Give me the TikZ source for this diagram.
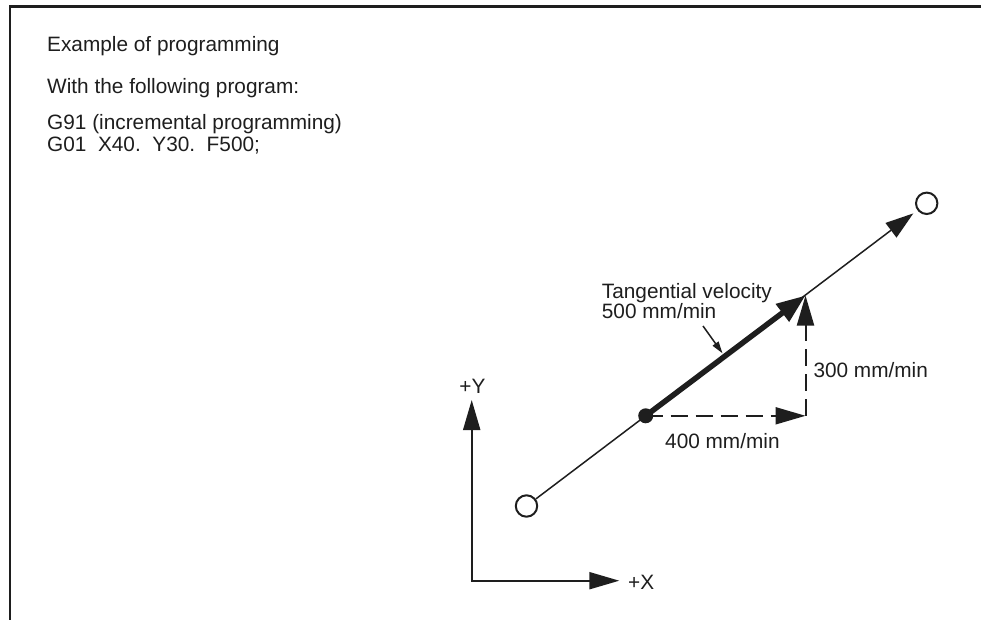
\documentclass[tikz,border=0pt]{standalone}
\usepackage{fontspec}
\setmainfont{Liberation Sans}
\usetikzlibrary{arrows.meta}
\definecolor{ink}{RGB}{30,30,30}
\begin{document}
\begin{tikzpicture}[x=1pt,y=-1pt,
  txt/.style={anchor=base west, inner sep=0pt, font=\fontsize{20.8}{20.8}\selectfont, text=ink},
  circ/.style={circle, draw=ink, line width=2pt, minimum size=21.4pt, inner sep=0pt, fill=white},
  dotnode/.style={circle, fill=ink, minimum size=15pt, inner sep=0pt},
  thinline/.style={draw=ink, line width=1.5pt},
  dashline/.style={draw=ink, line width=2pt, dash pattern=on 17pt off 8pt},
  bigtip/.tip={Triangle[length=30pt,width=17pt]},
]
\useasboundingbox (0,0) rectangle (981,620);
% frame
\coordinate (f1) at (9.7,620);
\coordinate (f2) at (9.7,6.5);
\coordinate (f3) at (981,6.5);
\draw[ink, line width=2.2pt] (f1) -- (f2) -- (f3);

% texts
\node[txt] (t1) at (47,52) {Example of programming};
\node[txt] (t2) at (47,94) {With the following program:};
\node[txt] (t3) at (47,130) {G91 (incremental programming)};
\node[txt] (t4) at (47,152) {G01\ \ X40.\ \ Y30.\ \ F500;};

% points
\coordinate (o) at (471.7,580.7);
\coordinate (yt) at (471.7,400);
\coordinate (xt) at (619.3,580.7);
\coordinate (tt) at (913.3,213.4);
\coordinate (v) at (805.5,295.5);
\coordinate (h) at (805.5,415.8);
\coordinate (la) at (703,326);
\coordinate (lb) at (722.5,353.3);

% path line with circles
\node[circ] (s) at (526.5,506) {};
\node[circ] (e) at (926.7,203.3) {};
\draw[thinline, -{Triangle[length=28pt,width=18pt]}] (s) -- (tt);

% components
\draw[dashline, -bigtip] (645.7,415.8) -- (h);
\draw[dashline, -bigtip] (h) -- (v);
\node[dotnode] (d) at (645.7,415.8) {};
\draw[ink, line width=5.5pt, -{Triangle[length=29pt,width=21pt]}] (d.center) -- (v);

% leader
\draw[thinline, -{Triangle[length=12pt,width=7pt]}] (la) -- (lb);

% axes
\draw[ink, line width=2pt, bigtip-bigtip] (yt) -- (o) -- (xt);
\node[txt, anchor=base] (ly) at (472.5,393) {+Y};
\node[txt] (lx) at (628,589) {+X};

% labels
\node[txt] (l1) at (601.7,298.3) {Tangential velocity};
\node[txt] (l2) at (601.7,318.3) {500 mm/min};
\node[txt] (l3) at (813.3,377) {300 mm/min};
\node[txt] (l4) at (665,448) {400 mm/min};
\end{tikzpicture}
\end{document}
